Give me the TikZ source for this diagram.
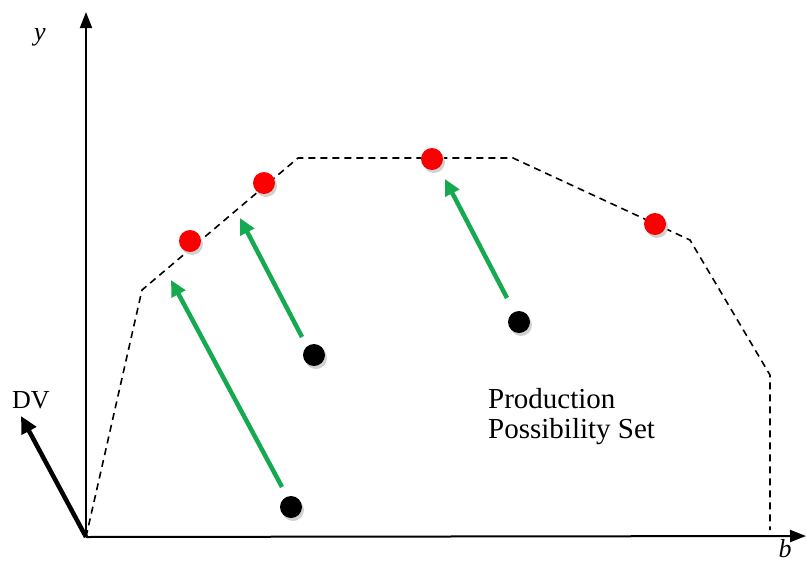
\documentclass[tikz,border=0pt]{standalone}
\usepackage{fontspec}
\setmainfont{Liberation Serif}
\usetikzlibrary{arrows.meta}
\definecolor{arrowgreen}{RGB}{22,170,80}
\definecolor{dotred}{RGB}{250,0,0}
\tikzset{
  axis/.style={line width=2pt,-{Triangle[length=16pt,width=12pt]}},
  frontier/.style={line width=1.6pt,dash pattern=on 7pt off 5pt},
  reddot/.style={circle,fill=dotred,minimum size=22pt,inner sep=0pt},
  blackdot/.style={circle,fill=black,minimum size=22pt,inner sep=0pt},
  shadowdot/.style={circle,fill=black!18,minimum size=22pt,inner sep=0pt},
  move/.style={line width=4.5pt,draw=arrowgreen,-{Triangle[length=16pt,width=15pt]}},
  dvarrow/.style={line width=4.5pt,-{Triangle[length=17pt,width=16pt]}},
  lbl/.style={font=\fontsize{26}{28}\selectfont,inner sep=0pt},
}
\begin{document}
\begin{tikzpicture}[x=1pt,y=-1pt]
\useasboundingbox (0,0) rectangle (807,563);
% axes
\coordinate (O) at (86,537);
\coordinate (ytip) at (86,12);
\coordinate (xtip) at (806,536);
\draw[axis] (O) -- (ytip);
\draw[axis] (O) -- (xtip);
\node[lbl,font=\fontsize{26}{28}\selectfont\itshape] (ylab) at (40,37) {y};
\node[lbl,anchor=base,font=\fontsize{26}{28}\selectfont\itshape] (blab) at (785,557) {b};
% frontier
\coordinate (f1) at (142,290);
\coordinate (f2) at (298,158);
\coordinate (f3) at (513,158);
\coordinate (f4) at (690,240);
\coordinate (f5) at (770,375);
\coordinate (f6) at (770,530);
\draw[frontier] (O) -- (f1) -- (f2) -- (f3) -- (f4) -- (f5) -- (f6);
% DV
\coordinate (dvtip) at (21,416);
\draw[dvarrow] (O) -- (dvtip);
\node[lbl,anchor=base west] (dvlab) at (12,408) {DV};
% shadows
\foreach \p in {(192,244),(266,186),(434,162),(657,227),(316,358),(521,325),(293,510)}
  \node[shadowdot] at \p {};
% dots
\node[reddot] (r1) at (190,241) {};
\node[reddot] (r2) at (264,183) {};
\node[reddot] (r3) at (432,159) {};
\node[reddot] (r4) at (655,224) {};
\node[blackdot] (k1) at (314,355) {};
\node[blackdot] (k2) at (519,322) {};
\node[blackdot] (k3) at (291,507) {};
% green arrows
\coordinate (a1s) at (282,487);
\coordinate (a1e) at (171,280);
\coordinate (a2s) at (302,337);
\coordinate (a2e) at (240,218);
\coordinate (a3s) at (507,298);
\coordinate (a3e) at (445,179);
\draw[move] (a1s) -- (a1e);
\draw[move] (a2s) -- (a2e);
\draw[move] (a3s) -- (a3e);
% text
\node[anchor=base west,inner sep=0pt,align=left,font=\fontsize{29}{30}\selectfont] (pps) at (488,438) {Production\\Possibility Set};
\end{tikzpicture}
\end{document}
